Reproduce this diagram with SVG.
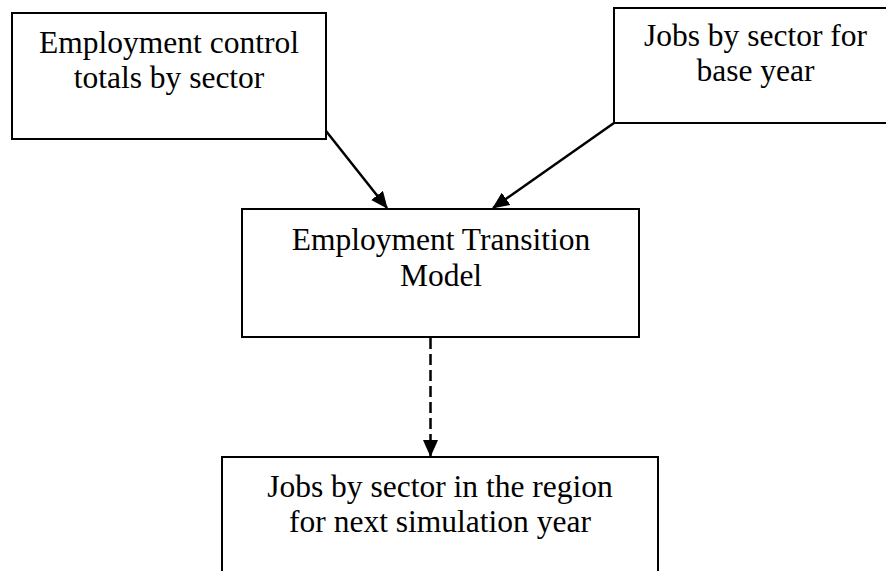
<svg xmlns="http://www.w3.org/2000/svg" width="886" height="571" viewBox="0 0 886 571">
  <style>
    .box { fill: #ffffff; stroke: #000000; stroke-width: 2; }
    .lbl { font-family: "Liberation Serif", "Times New Roman", serif; font-size: 31.5px; fill: #000000; text-anchor: middle; }
    .conn { stroke: #000000; stroke-width: 2.5; fill: none; }
    .dash { stroke-dasharray: 11 5; }
  </style>
  <defs>
    <marker id="arrow" markerUnits="userSpaceOnUse" markerWidth="17" markerHeight="15" refX="16" refY="7.5" orient="auto">
      <path d="M0,0 L17,7.5 L0,15 z" fill="#000000"/>
    </marker>
  </defs>
  <rect width="886" height="571" fill="#ffffff"/>

  <g id="node-control-totals">
    <rect class="box" x="12" y="13" width="314" height="126"/>
    <text class="lbl" x="169" y="53">Employment control</text>
    <text class="lbl" x="169" y="88">totals by sector</text>
  </g>

  <g id="node-jobs-base">
    <rect class="box" x="614" y="8" width="284" height="115"/>
    <text class="lbl" x="755.5" y="46">Jobs by sector for</text>
    <text class="lbl" x="755.5" y="81">base year</text>
  </g>

  <g id="node-transition-model">
    <rect class="box" x="242" y="209" width="397" height="128"/>
    <text class="lbl" x="441" y="250">Employment Transition</text>
    <text class="lbl" x="441" y="286">Model</text>
  </g>

  <g id="node-jobs-next">
    <rect class="box" x="222" y="457" width="436" height="130"/>
    <text class="lbl" x="440" y="497">Jobs by sector in the region</text>
    <text class="lbl" x="440" y="532">for next simulation year</text>
  </g>

  <g id="connectors">
    <line class="conn" x1="326" y1="131" x2="387" y2="208" marker-end="url(#arrow)"/>
    <line class="conn" x1="614" y1="123" x2="493" y2="208" marker-end="url(#arrow)"/>
    <line class="conn dash" x1="430.5" y1="338" x2="430.5" y2="456" marker-end="url(#arrow)"/>
  </g>
</svg>
